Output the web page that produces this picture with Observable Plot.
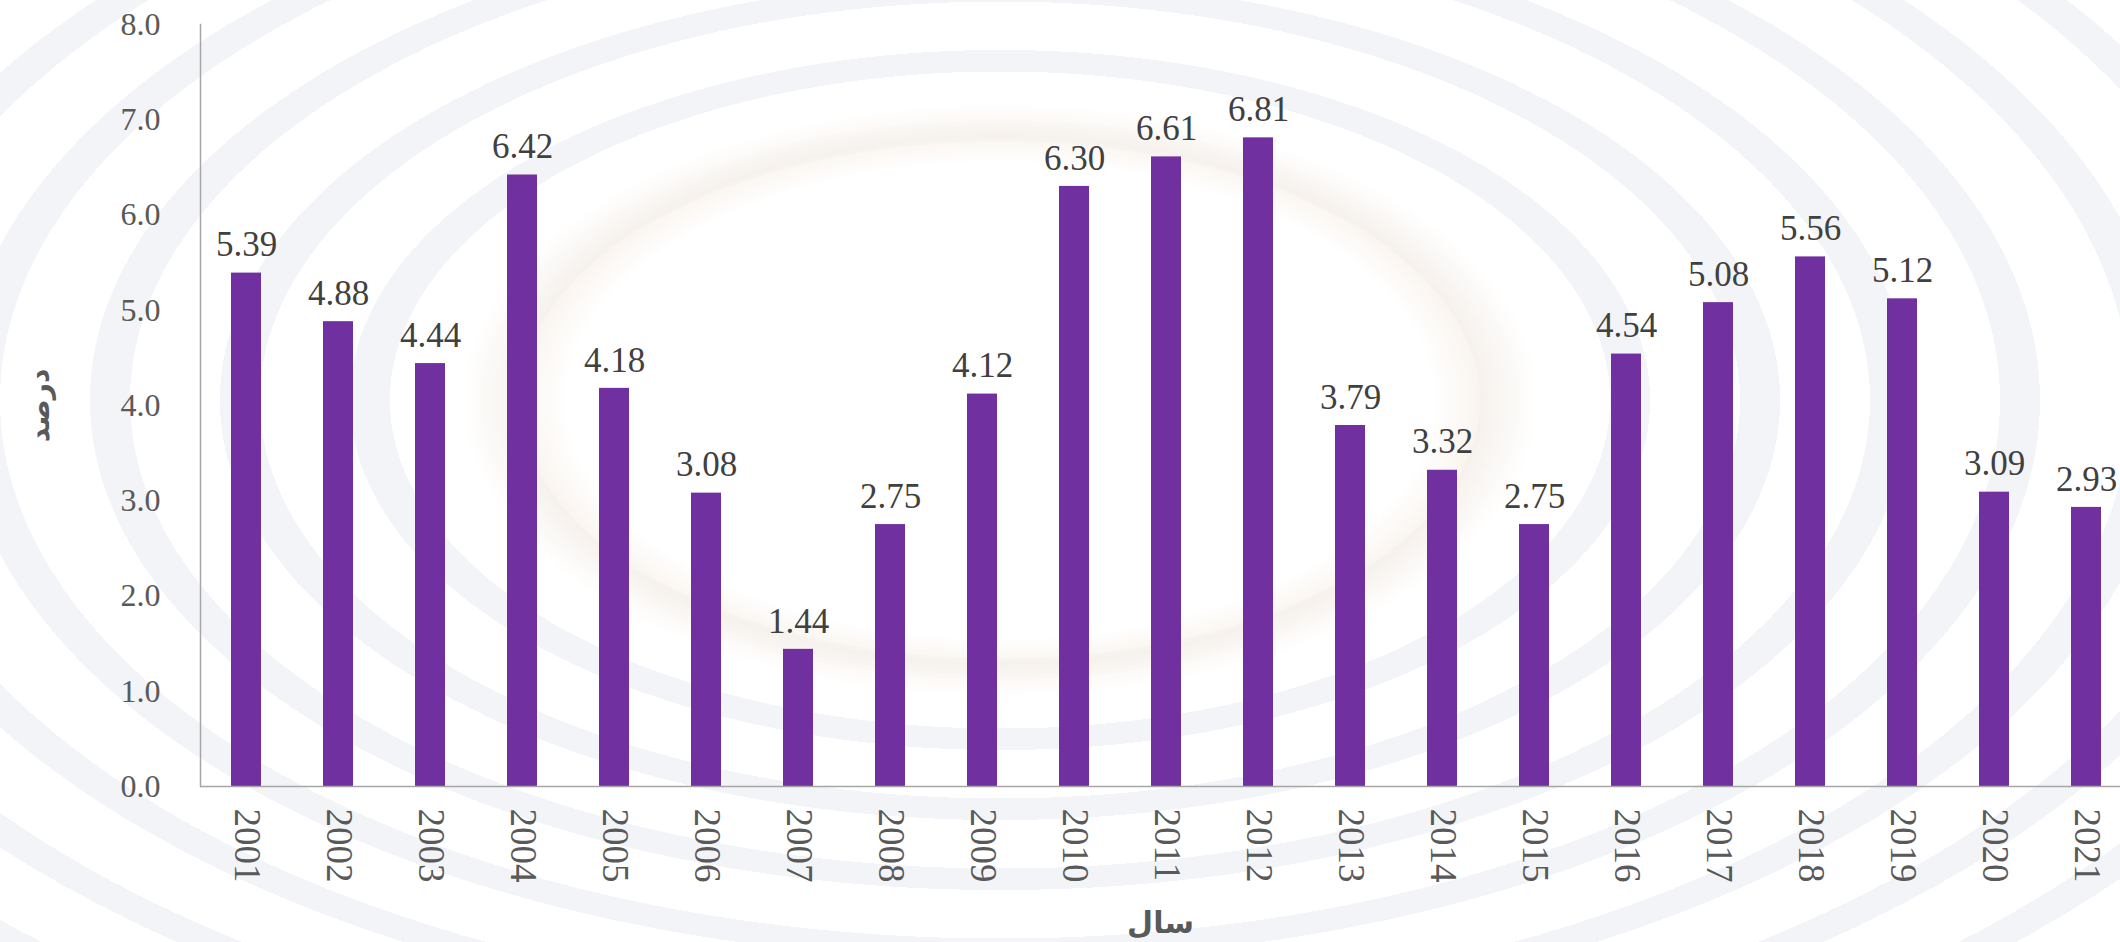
<!DOCTYPE html>
<html>
<head>
<meta charset="utf-8">
<script src="https://cdn.jsdelivr.net/npm/d3@7"></script>
<script src="https://cdn.jsdelivr.net/npm/@observablehq/plot@0.6"></script>
<style>
  html, body { margin: 0; padding: 0; overflow: hidden; }
  body {
    width: 2120px; height: 942px;
    background:
      radial-gradient(ellipse 600px 330px at 1000px 400px, #ffffff 0%, #ffffff 72%, rgba(248,240,232,0.7) 80%, #ffffff 90%, rgba(255,255,255,0) 100%),
      repeating-radial-gradient(ellipse 1300px 700px at 1000px 400px, #ffffff 0px, #ffffff 90px, #f2f4f7 90px, #f2f4f7 130px),
      #ffffff;
  }
  #chart svg { display: block; }
</style>
</head>
<body>
<div id="chart"></div>
<script>
const years = ["2001","2002","2003","2004","2005","2006","2007","2008","2009","2010","2011","2012","2013","2014","2015","2016","2017","2018","2019","2020","2021"];
const values = [5.39, 4.88, 4.44, 6.42, 4.18, 3.08, 1.44, 2.75, 4.12, 6.30, 6.61, 6.81, 3.79, 3.32, 2.75, 4.54, 5.08, 5.56, 5.12, 3.09, 2.93];
const yTicks = [0, 1, 2, 3, 4, 5, 6, 7, 8];
const yLabel = "درصد";
const xLabel = "سال";

const data = years.map((y, i) => ({year: y, value: values[i]}));

const chart = Plot.plot({
  width: 2120,
  height: 942,
  marginTop: 24,
  marginBottom: 156,
  marginLeft: 200,
  marginRight: 0,
  style: {background: "transparent", fontFamily: "'Liberation Serif', serif", overflow: "visible"},
  x: {domain: years, range: [200, 2132], paddingInner: 0.67, paddingOuter: 0.335},
  y: {domain: [0, 8]},
  marks: [
    Plot.barY(data, {x: "year", y: "value", fill: "#7030A0"}),
    Plot.text(data, {
      x: "year", y: "value", text: d => d.value.toFixed(2),
      dy: -28, fill: "#404040", fontSize: 35, textAnchor: "middle", lineAnchor: "middle"
    }),
    Plot.ruleY([0], {stroke: "#a6a6a6", strokeWidth: 1.5}),
    Plot.frame({anchor: "left", stroke: "#a6a6a6", strokeWidth: 1.5}),
    Plot.axisY({
      ticks: yTicks, tickSize: 0, tickPadding: 40, tickFormat: d => d.toFixed(1),
      fontSize: 32, color: "#595959",
      label: null
    }),
    Plot.axisX({
      tickSize: 0, tickPadding: 22, tickRotate: 90, textAnchor: "start",
      fontSize: 37, color: "#595959", label: null
    }),
    Plot.text([yLabel], {
      frameAnchor: "left", dx: -160, rotate: -90, text: d => d,
      fontSize: 28, fontWeight: "bold", fill: "#595959",
      fontFamily: "'DejaVu Sans', sans-serif", textAnchor: "middle", lineAnchor: "middle"
    }),
    Plot.text([xLabel], {
      frameAnchor: "bottom", dx: 0, dy: 137, text: d => d,
      fontSize: 30, fontWeight: "bold", fill: "#595959",
      fontFamily: "'DejaVu Sans', sans-serif", textAnchor: "middle", lineAnchor: "middle"
    })
  ]
});
document.getElementById("chart").append(chart);
</script>
</body>
</html>
